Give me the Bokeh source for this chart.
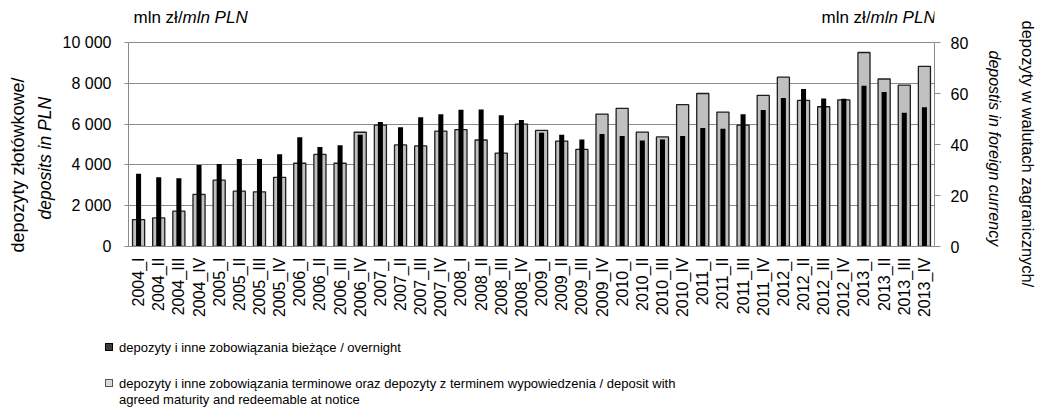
from math import pi
from bokeh.plotting import figure
from bokeh.layouts import column
from bokeh.models import (FactorRange, Range1d, LinearAxis, Label, Title, Div,
                          FixedTicker, ColumnDataSource)
from bokeh.embed import file_html
from bokeh.resources import INLINE

quarters = ["2004_I", "2004_II", "2004_III", "2004_IV",
            "2005_I", "2005_II", "2005_III", "2005_IV",
            "2006_I", "2006_II", "2006_III", "2006_IV",
            "2007_I", "2007_II", "2007_III", "2007_IV",
            "2008_I", "2008_II", "2008_III", "2008_IV",
            "2009_I", "2009_II", "2009_III", "2009_IV",
            "2010_I", "2010_II", "2010_III", "2010_IV",
            "2011_I", "2011_II", "2011_III", "2011_IV",
            "2012_I", "2012_II", "2012_III", "2012_IV",
            "2013_I", "2013_II", "2013_III", "2013_IV"]

overnight = [3570, 3390, 3340, 4000, 4050, 4290, 4290, 4520,
             5350, 4880, 4960, 5480, 6100, 5840, 6330, 6480,
             6700, 6720, 6430, 6200, 5580, 5480, 5250, 5510,
             5420, 5190, 5240, 5420, 5810, 5770, 6480, 6690,
             7280, 7720, 7260, 7240, 7880, 7570, 6560, 6820]

term = [1320, 1400, 1730, 2560, 3250, 2710, 2680, 3390,
        4080, 4520, 4080, 5600, 5950, 4980, 4930, 5660,
        5730, 5220, 4580, 6000, 5690, 5170, 4760, 6490,
        6770, 5610, 5370, 6950, 7500, 6590, 5950, 7410,
        8300, 7160, 6850, 7190, 9510, 8210, 7910, 8830]

left_ticks = [0, 2000, 4000, 6000, 8000, 10000]
left_tick_labels = ["0", "2 000", "4 000", "6 000", "8 000", "10 000"]
right_ticks = [0, 20, 40, 60, 80]

unit_pl = "mln zł/"
unit_en = "mln PLN"
left_title_pl = "depozyty złotówkowe/"
left_title_en = "deposits in PLN"
right_title_pl = "depozyty w walutach zagranicznych/"
right_title_en = "depostis in foreign currency"
legend_overnight = ["depozyty i inne zobowiązania bieżące / overnight"]
legend_term = ["depozyty i inne zobowiązania terminowe oraz depozyty z terminem wypowiedzenia / deposit with",
               "agreed maturity and redeemable at notice"]
legend_colors = ["#3c3c3c", "#dcdcdc"]
legend_borders = ["#000000", "#555555"]

FONT = "Liberation Sans"
GRID = "#8a8a8a"

# frame spans from canvas top (y=0) to the x axis (y=246); values 0..10000 occupy the lower 204 px
FRAME_H = 246
DATA_H = 204
y_top = 10000 * FRAME_H / DATA_H
y2_top = 80 * FRAME_H / DATA_H
MAIN_H = 330
LEG_H = 411 - MAIN_H

src = ColumnDataSource(dict(q=quarters, overnight=overnight, term=term))

p = figure(width=1038, height=MAIN_H, x_range=FactorRange(factors=quarters, range_padding=0),
           y_range=Range1d(0, y_top), output_backend="svg", toolbar_location=None,
           min_border_left=128, min_border_right=99, min_border_top=0,
           min_border_bottom=MAIN_H - FRAME_H)
p.outline_line_color = None
p.background_fill_color = "white"
p.border_fill_color = "white"

p.vbar(x="q", top="term", width=0.6, source=src, fill_color="#c0c0c0",
       line_color="#1e1e1e", line_width=1.3)
p.vbar(x="q", top="overnight", width=0.25, source=src, fill_color="black", line_color=None)

# x axis
xa = p.xaxis[0]
xa.major_label_orientation = pi / 2
xa.major_tick_line_color = None
xa.major_tick_out = 0
xa.minor_tick_line_color = None
xa.axis_line_color = GRID
xa.major_label_text_font = FONT
xa.major_label_text_font_size = "16px"
xa.major_label_text_color = "black"
xa.major_label_standoff = 11
p.xgrid.grid_line_color = None

# left axis
ya = p.yaxis[0]
ya.ticker = FixedTicker(ticks=left_ticks)
ya.bounds = (0, 10000)
ya.major_label_overrides = {t: l for t, l in zip(left_ticks, left_tick_labels)}
ya.minor_tick_line_color = None
ya.major_tick_line_color = GRID
ya.major_tick_in = 0
ya.major_tick_out = 4
ya.axis_line_color = GRID
ya.major_label_text_font = FONT
ya.major_label_text_font_size = "16px"
ya.major_label_text_color = "black"
ya.major_label_standoff = 13
p.ygrid.grid_line_color = GRID
p.ygrid.grid_line_width = 1.2
p.ygrid.ticker = FixedTicker(ticks=left_ticks)

# right axis
p.extra_y_ranges = {"fx": Range1d(0, y2_top)}
ra = LinearAxis(y_range_name="fx", ticker=FixedTicker(ticks=right_ticks), bounds=(0, 80))
ra.minor_tick_line_color = None
ra.major_tick_line_color = GRID
ra.major_tick_in = 0
ra.major_tick_out = 6
ra.axis_line_color = GRID
ra.major_label_text_font = FONT
ra.major_label_text_font_size = "16px"
ra.major_label_text_color = "black"
ra.major_label_standoff = 10
p.add_layout(ra, "right")

# axis titles (closest to axis first)
p.add_layout(Title(text=left_title_en, align="left", offset=27, text_font=FONT,
                   text_font_size="17.5px", text_font_style="italic", text_color="black",
                   standoff=10), "left")
p.add_layout(Title(text=left_title_pl, align="left", offset=-6, text_font=FONT,
                   text_font_size="18px", text_font_style="normal", text_color="black",
                   standoff=0), "left")
p.add_layout(Title(text=right_title_en, align="left", offset=50, text_font=FONT,
                   text_font_size="16px", text_font_style="italic", text_color="black",
                   standoff=28), "right")
p.add_layout(Title(text=right_title_pl, align="left", offset=20, text_font=FONT,
                   text_font_size="16.5px", text_font_style="normal", text_color="black",
                   standoff=0), "right")


def lab(text, x, y, italic=False):
    p.add_layout(Label(text=text, x=x, y=y, x_units="screen", y_units="screen",
                       text_align="left", text_baseline="middle",
                       text_font=FONT, text_font_size="17px",
                       text_font_style="italic" if italic else "normal",
                       text_color="black"))


# units, inside the frame area above the plotted values (screen: from frame left / frame bottom)
lab(unit_pl, 5, 229)
lab(unit_en, 54, 229, italic=True)
lab(unit_pl, 693, 229)
lab(unit_en, 742, 229, italic=True)

# legend below the chart, as HTML
def swatch(top, color, border):
    return (f'<div style="position:absolute;left:105px;top:{top}px;width:8px;height:8px;'
            f'background:{color};border:1px solid {border};"></div>')


def entry(top, lines):
    return (f'<div style="position:absolute;left:119px;top:{top}px;white-space:nowrap;">'
            + "<br>".join(lines) + "</div>")


legend_html = (
    f'<div style="position:relative;width:1038px;height:{LEG_H}px;font-family:\'{FONT}\',Arial,sans-serif;'
    'font-size:13px;line-height:16px;color:#000;">'
    + swatch(13, legend_colors[0], legend_borders[0]) + entry(10, legend_overnight)
    + swatch(49, legend_colors[1], legend_borders[1]) + entry(46, legend_term)
    + "</div>")
legend_div = Div(text=legend_html, width=1038, height=LEG_H, margin=(0, 0, 0, 0))

layout = column(p, legend_div, spacing=0)
open("out.html", "w").write(file_html(layout, INLINE))
